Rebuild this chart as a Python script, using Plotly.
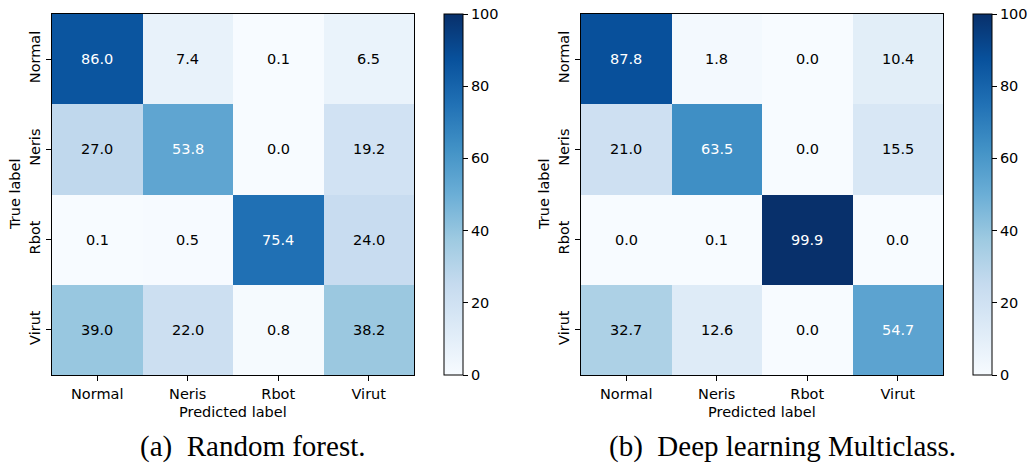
import plotly.graph_objects as go

labels = ["Normal", "Neris", "Rbot", "Virut"]
rf_values = [
    [86.0, 7.4, 0.1, 6.5],
    [27.0, 53.8, 0.0, 19.2],
    [0.1, 0.5, 75.4, 24.0],
    [39.0, 22.0, 0.8, 38.2],
]
dl_values = [
    [87.8, 1.8, 0.0, 10.4],
    [21.0, 63.5, 0.0, 15.5],
    [0.0, 0.1, 99.9, 0.0],
    [32.7, 12.6, 0.0, 54.7],
]
colorbar_ticks = [0, 20, 40, 60, 80, 100]
captions = ["(a)  Random forest.", "(b)  Deep learning Multiclass."]

blues = ['rgb(247,251,255)', 'rgb(222,235,247)', 'rgb(198,219,239)', 'rgb(158,202,225)',
         'rgb(107,174,214)', 'rgb(66,146,198)', 'rgb(33,113,181)', 'rgb(8,81,156)', 'rgb(8,48,107)']
cscale = [[i / 8, c] for i, c in enumerate(blues)]

W, H = 1030, 463
FONT = "DejaVu Sans"
FS = 14.5

panels = [
    dict(vals=rf_values, x0=52, x1=414, cbx=444, xa="x", ya="y", capx=253),
    dict(vals=dl_values, x0=581, x1=943, cbx=973, xa="x2", ya="y2", capx=782),
]
top, bottom = 14, 375

fig = go.Figure()
annotations = []
for i, p in enumerate(panels):
    fig.add_trace(go.Heatmap(
        z=p["vals"], x=labels, y=labels, colorscale=cscale, zmin=0, zmax=100,
        xaxis=p["xa"], yaxis=p["ya"], hoverinfo="skip",
        colorbar=dict(
            x=p["cbx"] / W, xanchor="left", xpad=0, ypad=0,
            y=1 - bottom / H, yanchor="bottom", len=(bottom - top) / H, lenmode="fraction",
            thickness=19, thicknessmode="pixels",
            outlinewidth=1, outlinecolor="black",
            tickvals=colorbar_ticks, ticks="outside", ticklen=5, tickcolor="black",
            tickfont=dict(family=FONT, size=FS, color="black"),
        ),
    ))
    thresh = max(max(r) for r in p["vals"]) / 2
    for r, row in enumerate(p["vals"]):
        for c, v in enumerate(row):
            annotations.append(dict(
                x=labels[c], y=labels[r], xref=p["xa"], yref=p["ya"],
                text=f"{v:.1f}", showarrow=False, xanchor="center", yanchor="middle",
                font=dict(family=FONT, size=FS, color="white" if v > thresh else "black"),
            ))
    cx = (p["x0"] + p["x1"]) / 2
    annotations.append(dict(x=cx / W, y=1 - 412 / H, xref="paper", yref="paper",
                            xanchor="center", yanchor="middle",
                            text="Predicted label", showarrow=False,
                            font=dict(family=FONT, size=FS, color="black")))
    annotations.append(dict(x=(p["x0"] - 37) / W, y=1 - 195 / H, xref="paper", yref="paper",
                            xanchor="center", yanchor="middle",
                            text="True label", showarrow=False, textangle=-90,
                            font=dict(family=FONT, size=FS, color="black")))
    annotations.append(dict(x=p["capx"] / W, y=1 - 446 / H, xref="paper", yref="paper",
                            xanchor="center", yanchor="middle",
                            text=captions[i], showarrow=False,
                            font=dict(family="Liberation Serif", size=29, color="black")))

axis_common = dict(showgrid=False, zeroline=False, showline=True, linecolor="black",
                   linewidth=1.2, mirror=True, ticks="outside", ticklen=5, tickcolor="black",
                   tickfont=dict(family=FONT, size=FS, color="black"))

layout = dict(
    width=W, height=H, margin=dict(l=0, r=0, t=0, b=0),
    paper_bgcolor="white", plot_bgcolor="white", showlegend=False,
    annotations=annotations,
)
for i, p in enumerate(panels):
    sfx = "" if i == 0 else "2"
    layout["xaxis" + sfx] = dict(domain=[p["x0"] / W, p["x1"] / W], anchor="y" + sfx, **axis_common)
    layout["yaxis" + sfx] = dict(domain=[1 - bottom / H, 1 - top / H], anchor="x" + sfx,
                                 autorange="reversed", tickangle=-90, **axis_common)
fig.update_layout(**layout)
fig.write_html("out.html")
